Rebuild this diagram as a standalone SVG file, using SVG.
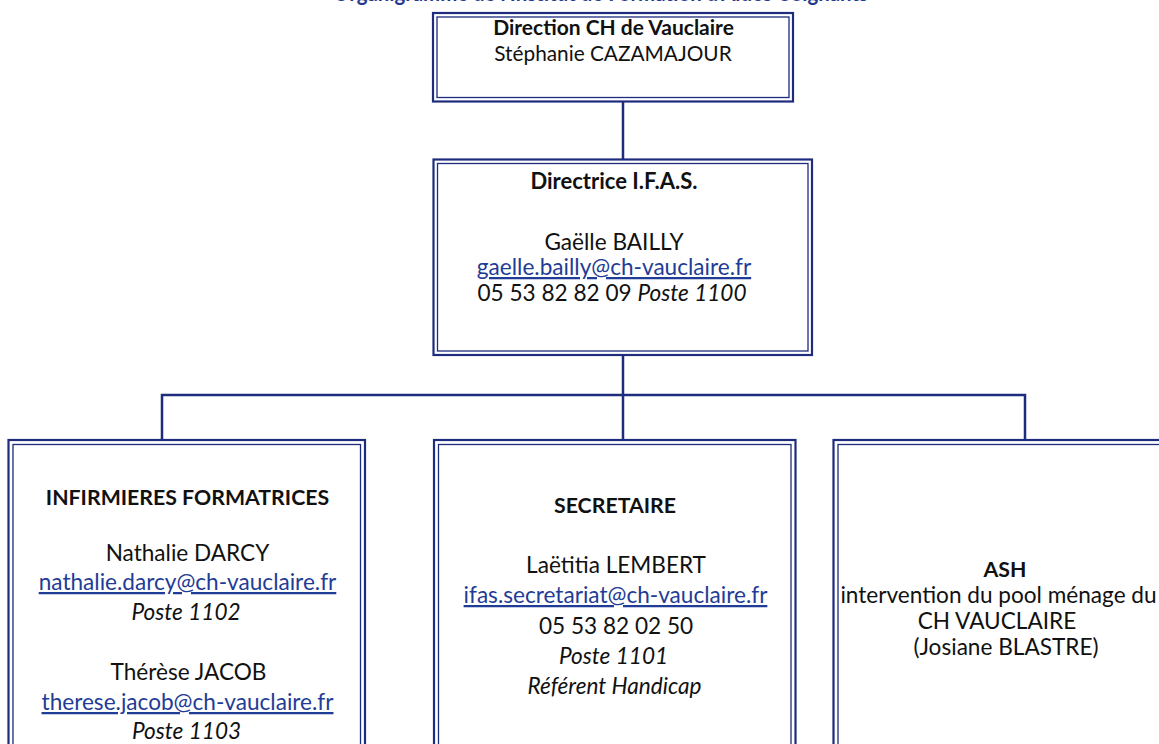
<svg xmlns="http://www.w3.org/2000/svg" width="1159" height="744" viewBox="0 0 1159 744">
<style>
.bg{fill:#ffffff}
.bo{fill:#ffffff;stroke:#1e2c7e;stroke-width:2.2}
.bi{fill:none;stroke:#1e2c7e;stroke-width:1.3}
.conn{fill:none;stroke:#1e2c7e;stroke-width:2.5}
.t{font-family:Lato,"Open Sans","Liberation Sans",sans-serif;font-size:22.6px;fill:#111111;text-anchor:middle}
.s{font-size:20.8px}
.b{font-weight:bold;font-size:21.3px}
.b2{font-weight:bold;font-size:22px}
.i{font-style:italic}
.lk{fill:#1f3c96;text-decoration:underline}
.title{font-family:Lato,"Open Sans","Liberation Sans",sans-serif;font-size:22px;font-weight:bold;fill:#24398c}
</style>
<rect class="bg" x="0" y="0" width="1159" height="744"/>
<text class="title" x="333" y="0.5" textLength="535" lengthAdjust="spacingAndGlyphs">Organigramme de l'Institut de Formation d'Aides-Soignants</text>
<g id="connectors">
<path class="conn" d="M623 101.5 V159.5"/>
<path class="conn" d="M623 355 V395"/>
<path class="conn" d="M162 441 V395 H1025 V441"/>
<path class="conn" d="M623 395 V440"/>
</g>
<g id="direction">
<rect class="bo" x="433" y="13" width="360" height="88.5"/>
<rect class="bi" x="437" y="17" width="352" height="80.5"/>
<text class="t b" style="font-size:21px" x="613.5" y="35">Direction CH de Vauclaire</text>
<text class="t s" x="613" y="61">Stéphanie CAZAMAJOUR</text>
</g>
<g id="directrice">
<rect class="bo" x="433.5" y="159.5" width="378.5" height="195.5"/>
<rect class="bi" x="437.5" y="163.5" width="370.5" height="187.5"/>
<text class="t b2" x="614" y="189">Directrice I.F.A.S.</text>
<text class="t" x="614" y="250">Gaëlle BAILLY</text>
<text class="t lk" x="614" y="275">gaelle.bailly@ch-vauclaire.fr</text>
<text class="t" x="612" y="301">05 53 82 82 09 <tspan class="i">Poste 1100</tspan></text>
</g>
<g id="infirmieres">
<rect class="bo" x="8.5" y="440" width="356.5" height="400"/>
<rect class="bi" x="13" y="444.5" width="347.5" height="400"/>
<text class="t b" x="187.5" y="505">INFIRMIERES FORMATRICES</text>
<text class="t" x="187.5" y="561">Nathalie DARCY</text>
<text class="t lk" x="187.5" y="590">nathalie.darcy@ch-vauclaire.fr</text>
<text class="t i" x="186" y="620">Poste 1102</text>
<text class="t" x="188.5" y="680">Thérèse JACOB</text>
<text class="t lk" x="187.5" y="710">therese.jacob@ch-vauclaire.fr</text>
<text class="t i" x="186.5" y="739">Poste 1103</text>
</g>
<g id="secretaire">
<rect class="bo" x="434" y="440" width="361.5" height="400"/>
<rect class="bi" x="438.5" y="444.5" width="352.5" height="400"/>
<text class="t b" x="615" y="513">SECRETAIRE</text>
<text class="t" x="616" y="573">Laëtitia LEMBERT</text>
<text class="t lk" x="615.5" y="603">ifas.secretariat@ch-vauclaire.fr</text>
<text class="t" x="616" y="634">05 53 82 02 50</text>
<text class="t i" x="613.5" y="664">Poste 1101</text>
<text class="t i" x="614.5" y="694">Référent Handicap</text>
</g>
<g id="ash">
<rect class="bo" x="833.5" y="440" width="400" height="400"/>
<rect class="bi" x="838" y="444.5" width="400" height="400"/>
<text class="t b" x="1005" y="577">ASH</text>
<text class="t" x="998.5" y="603">intervention du pool ménage du</text>
<text class="t" x="997" y="629">CH VAUCLAIRE</text>
<text class="t" x="1006" y="655">(Josiane BLASTRE)</text>
</g>
</svg>
